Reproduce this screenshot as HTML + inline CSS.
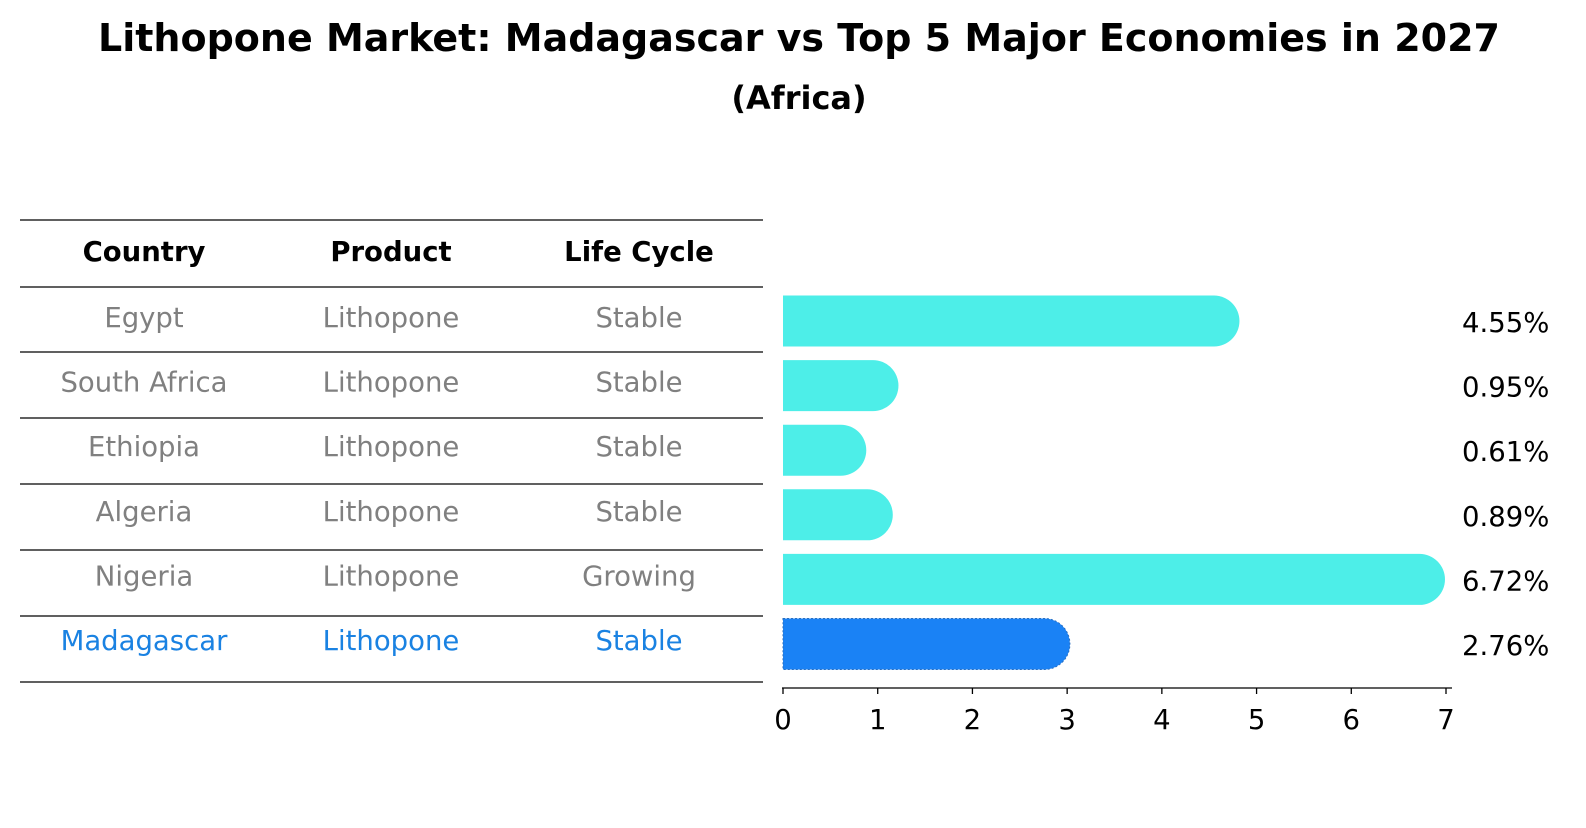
<!DOCTYPE html>
<html><head><meta charset="utf-8"><style>
body{margin:0;background:#fff;font-family:"Liberation Sans","DejaVu Sans",sans-serif}
</style></head><body>
<svg width="1586" height="823" xmlns="http://www.w3.org/2000/svg" font-family="DejaVu Sans, Liberation Sans, sans-serif">
<text x="799" y="51" text-anchor="middle" font-size="38" font-weight="bold">Lithopone Market: Madagascar vs Top 5 Major Economies in 2027</text>
<text x="799" y="109" text-anchor="middle" font-size="32" font-weight="bold">(Africa)</text>
<g id="table"></g>
<g id="bars"></g>
</svg>
<script>
const countries=["Egypt","South Africa","Ethiopia","Algeria","Nigeria","Madagascar"];
const products=["Lithopone","Lithopone","Lithopone","Lithopone","Lithopone","Lithopone"];
const lifeCycles=["Stable","Stable","Stable","Stable","Growing","Stable"];
const values=[4.55,0.95,0.61,0.89,6.72,2.76];
const ticks=[0,1,2,3,4,5,6,7];
const NS="http://www.w3.org/2000/svg";
const FS=27.5;
const tbl=document.getElementById('table'), bars=document.getElementById('bars');
function mk(tag,attrs,parent,text){const e=document.createElementNS(NS,tag);for(const k in attrs)e.setAttribute(k,attrs[k]);if(text!==undefined)e.textContent=text;parent.appendChild(e);return e;}
const cols=[144,391,639];
const lineYs=[220,287,352,418,484,550,616,682];
lineYs.forEach(y=>{const l=mk('line',{x1:20,x2:763,y1:y,y2:y,stroke:'#000','stroke-width':1.2},tbl);

});
["Country","Product","Life Cycle"].forEach((h,i)=>{const t=mk('text',{x:cols[i],y:261,'text-anchor':'middle','font-size':FS,'font-weight':'bold'},tbl,h);

});
const x0=783,pxPerUnit=(1446-783)/7;
const xs=v=>x0+v*pxPerUnit;
const rowCenter=i=>321+i*64.6;
countries.forEach((c,i)=>{
 const last=i===countries.length-1;
 const col=last?'#1a82e2':'#808080';
 const cy=rowCenter(i)-3;
 [c,products[i],lifeCycles[i]].forEach((v,j)=>{const t=mk('text',{x:cols[j],y:cy+9,'text-anchor':'middle','font-size':FS,fill:col},tbl,v);
 
 });
 const h=51,r=25.5,top=rowCenter(i)-h/2,xe=xs(values[i]);
 const p=mk('path',{d:`M${x0},${top} H${xe} A${r},${r} 0 0 1 ${xe},${top+h} H${x0} Z`,fill:last?'#1a82f5':'#4deee8',stroke:last?'#2a6fc0':'none','stroke-dasharray':last?'2,2':'none','stroke-width':last?1:0},bars);
 
 
 const t=mk('text',{x:1462,y:rowCenter(i)+11,'font-size':FS},bars,values[i].toFixed(2)+'%');
 
 
});
const ax=mk('line',{x1:782,x2:1452,y1:688,y2:688,stroke:'#000','stroke-width':1.3},bars);


ticks.forEach(v=>{const l=mk('line',{x1:xs(v),x2:xs(v),y1:688,y2:694,stroke:'#000','stroke-width':1.3},bars);


const t=mk('text',{x:xs(v),y:729,'text-anchor':'middle','font-size':FS},bars,String(v));

});
</script>
</body></html>
